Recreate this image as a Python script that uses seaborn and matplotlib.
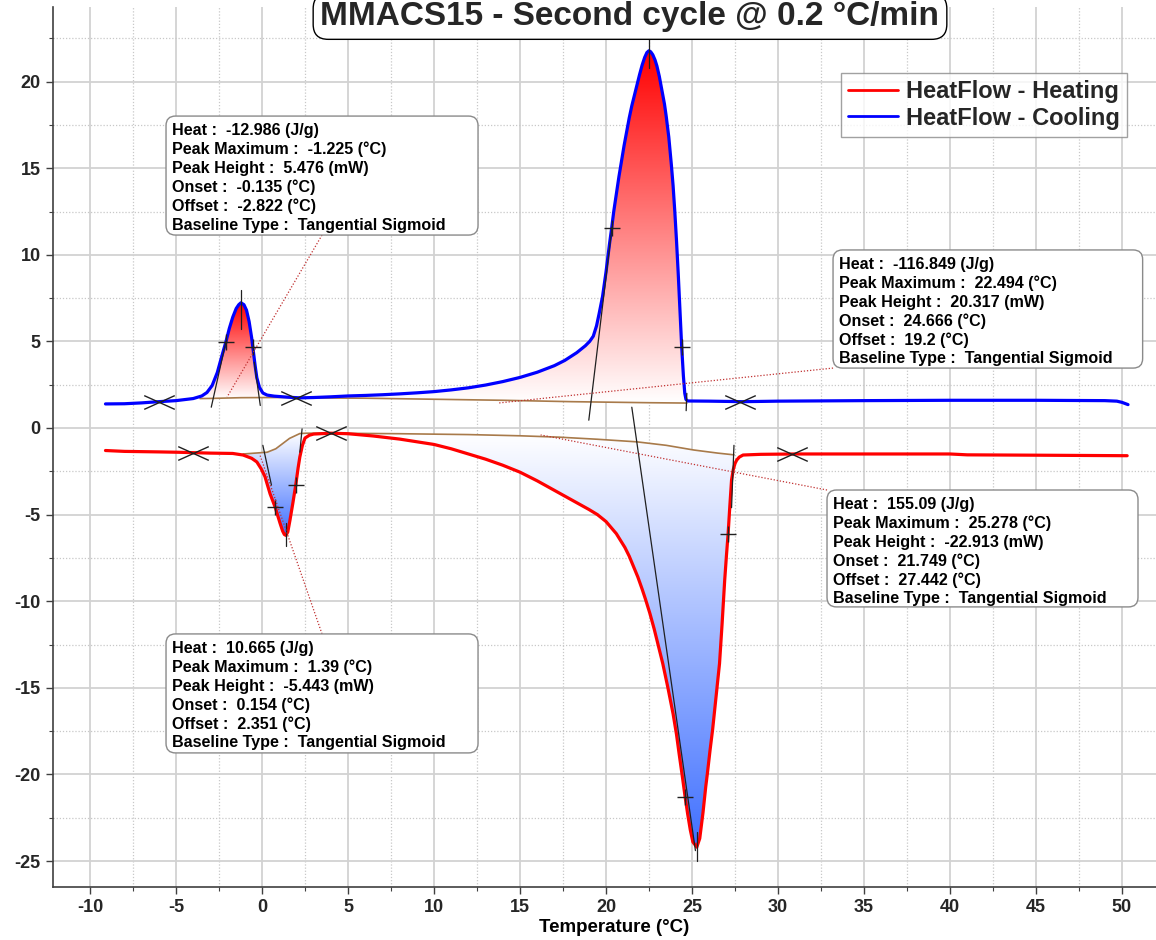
import numpy as np
import pandas as pd
import matplotlib
matplotlib.use("Agg")
import matplotlib.pyplot as plt
import seaborn as sns
from matplotlib.colors import LinearSegmentedColormap
from matplotlib.patches import FancyBboxPatch
from matplotlib.path import Path

# ---------------- heat-flow curves (temperature in °C, heat flow in mW) ----------------
cool_T = [-9.1, -8.0, -7.0, -6.0, -5.0, -4.0, -3.5, -3.2, -2.9, -2.6, -2.35, -2.1, -1.9,
          -1.7, -1.5, -1.35, -1.225, -1.05, -0.9, -0.75, -0.6, -0.5, -0.4, -0.3, -0.15,
          0.05, 0.3, 0.7, 1.5, 2.2, 3.0, 4.0, 5.0, 6.0, 7.0, 8.0, 9.0, 10.0, 11.0, 12.0,
          13.0, 14.0, 15.0, 16.0, 17.0, 17.6, 18.3, 18.8, 19.05, 19.26, 19.45, 19.6, 19.7,
          19.8, 19.9, 20.0, 20.1, 20.2, 20.33, 20.45, 20.6, 20.75, 20.9, 21.05, 21.2, 21.35,
          21.5, 21.65, 21.8, 21.95, 22.1, 22.25, 22.38, 22.494, 22.6, 22.72, 22.85, 22.96,
          23.1, 23.25, 23.4, 23.5, 23.65, 23.8, 23.9, 24.0, 24.1, 24.2, 24.3, 24.4, 24.5,
          24.58, 24.65, 24.75, 26.0, 28.0, 30.0, 35.0, 40.0, 45.0, 49.0, 49.7, 50.0, 50.35]
cool_HF = [1.39, 1.40, 1.45, 1.52, 1.58, 1.70, 1.85, 2.05, 2.45, 3.20, 4.10, 4.97, 5.75,
           6.40, 6.90, 7.12, 7.23, 7.12, 6.80, 6.15, 5.20, 4.40, 3.60, 2.90, 2.35,
           2.02, 1.90, 1.84, 1.78, 1.74, 1.76, 1.80, 1.85, 1.88, 1.92, 1.97, 2.03, 2.10, 2.20,
           2.32, 2.48, 2.68, 2.92, 3.22, 3.60, 3.90, 4.35, 4.75, 5.00, 5.30, 5.90, 6.60, 7.10,
           7.60, 8.30, 9.00, 9.80, 10.60, 11.55, 12.50, 13.50, 14.50, 15.40, 16.30, 17.10, 17.90,
           18.60, 19.20, 19.80, 20.40, 20.95, 21.40, 21.68, 21.78, 21.72, 21.55, 21.25, 20.90,
           20.30, 19.50, 18.70, 18.00, 16.80, 15.20, 14.00, 12.50, 10.80, 8.90, 6.80, 4.70, 3.00,
           2.00, 1.65, 1.56, 1.55, 1.52, 1.55, 1.58, 1.60, 1.60, 1.58, 1.55, 1.48, 1.35]

heat_T = [-9.1, -8.0, -6.0, -4.9, -3.0, -1.7, -1.1, -0.6, -0.3, -0.05, 0.17, 0.47, 0.76,
          1.05, 1.2, 1.3, 1.39, 1.5, 1.63, 1.8, 1.96, 2.1, 2.2, 2.35, 2.5, 2.75, 3.0, 4.0,
          5.0, 6.45, 8.0, 10.0, 11.0, 12.0, 13.0, 14.0, 15.0, 16.0, 17.0, 18.0, 19.0, 19.5,
          20.0, 20.6, 21.1, 21.35, 21.6, 21.85, 22.1, 22.3, 22.55, 22.8, 23.0, 23.15, 23.3,
          23.6, 23.9, 24.1, 24.25, 24.45, 24.6, 24.75, 24.9, 25.05, 25.278, 25.45, 25.64,
          25.8, 25.9, 26.05, 26.2, 26.4, 26.6, 26.75, 26.9, 27.0, 27.1, 27.2, 27.3, 27.4,
          27.5, 27.6, 27.75, 27.97, 29.0, 31.0, 35.0, 40.0, 41.0, 45.0, 50.3]
heat_HF = [-1.30, -1.35, -1.38, -1.40, -1.45, -1.47, -1.56, -1.75, -1.96, -2.35, -2.8, -3.8,
           -4.56, -5.5, -5.95, -6.15, -6.2, -6.0, -5.3, -4.3, -3.3, -2.3, -1.67, -1.0, -0.58,
           -0.42, -0.35, -0.30, -0.33, -0.46, -0.64, -0.95, -1.20, -1.50, -1.80, -2.15, -2.55,
           -3.05, -3.60, -4.15, -4.70, -5.00, -5.40, -6.10, -6.90, -7.40, -8.00, -8.60, -9.30,
           -9.90, -10.70, -11.60, -12.40, -13.00, -13.60, -15.00, -16.50, -17.70, -18.80,
           -20.20, -21.30, -22.30, -23.20, -23.90, -24.20, -23.70, -22.20, -20.70, -19.90,
           -18.60, -17.40, -15.50, -13.60, -11.30, -8.80, -7.40, -6.10, -4.50, -3.00, -2.40,
           -2.05, -1.85, -1.68, -1.56, -1.52, -1.50, -1.50, -1.50, -1.55, -1.57, -1.60]

# ---------------- integration baselines (tangential sigmoid) ----------------
cool_base1_T = [-3.6, -2.9, -1.225, 0.6, 2.0]
cool_base1_HF = [1.70, 1.71, 1.75, 1.76, 1.76]
cool_base2_T = [2.0, 6.0, 10.0, 14.0, 18.0, 22.494, 24.7]
cool_base2_HF = [1.74, 1.72, 1.66, 1.60, 1.52, 1.46, 1.44]
heat_base1_T = [-1.1, 0.3, 0.8, 1.2, 1.6, 2.2, 2.6, 4.0]
heat_base1_HF = [-1.50, -1.40, -1.20, -0.90, -0.60, -0.32, -0.30, -0.30]
heat_base2_T = [4.0, 8.0, 12.0, 15.0, 17.3, 19.5, 21.8, 23.5, 25.1, 26.5, 27.44]
heat_base2_HF = [-0.30, -0.33, -0.38, -0.45, -0.53, -0.65, -0.80, -1.00, -1.27, -1.45, -1.55]

# integration limits (×) and half-height points (+)
lim_T = [-6.0, 2.0, 27.8, -4.0, 4.0, 30.8]
lim_HF = [1.52, 1.75, 1.52, -1.42, -0.30, -1.50]
half_T = [-2.1, -0.54, 20.33, 24.4, 0.76, 1.96, 24.6, 27.1]
half_HF = [4.97, 4.7, 11.55, 4.7, -4.56, -3.3, -21.3, -6.1]

# tangent segments: (T start, HF start, T end, HF end)
tangent_segments = [
    (-2.95, 1.20, -2.10, 4.97),
    (-0.45, 3.80, -0.10, 1.30),
    (19.00, 0.45, 20.35, 11.60),
    (24.66, 1.00, 24.70, 2.00),
    (0.05, -1.00, 0.55, -3.30),
    (2.33, -0.05, 2.20, -1.40),
    (21.50, 1.20, 25.20, -24.40),
    (27.44, -1.00, 27.30, -4.60),
]

# ---------------- peak reports ----------------
ann_heat = [-12.986, -116.849, 155.09, 10.665]
ann_peak_max = [-1.225, 22.494, 25.278, 1.39]
ann_peak_height = [5.476, 20.317, -22.913, -5.443]
ann_onset = [-0.135, 24.666, 21.749, 0.154]
ann_offset = [-2.822, 19.2, 27.442, 2.351]
ann_baseline = ["Tangential Sigmoid"] * 4
ann_base_at_peak = [1.75, 1.46, -1.29, -0.76]
# report boxes (left, bottom, right, top) and leader lines
ann_boxes = [(-5.58, 11.14, 12.56, 18.01), (33.2, 3.46, 51.2, 10.28),
             (32.85, -10.33, 50.93, -3.58), (-5.58, -18.76, 12.56, -11.89)]
ann_leader_from = [(3.49, 11.14), (33.2, 3.46), (32.85, -3.58), (3.49, -11.89)]
ann_leader_to = [(-2.03, 1.79), (13.72, 1.44), (16.2, -0.40), (-0.12, -1.56)]

title = "MMACS15 - Second cycle @ 0.2 °C/min"
series_names = ["HeatFlow - Heating", "HeatFlow - Cooling"]
x_ticks = list(range(-10, 51, 5))
y_ticks = list(range(-25, 21, 5))

# ---------------- figure ----------------
sns.set_theme(style="white")
plt.rcParams['font.family'] = ['Liberation Sans', 'DejaVu Sans']
plt.rcParams['font.weight'] = 'bold'
plt.rcParams['axes.unicode_minus'] = False

W, H = 1156, 940
fig = plt.figure(figsize=(W / 100, H / 100), dpi=100)
ax = fig.add_axes([53 / W, 1 - 887 / H, (W - 53) / W, (887 - 7) / H])
ax.set_facecolor("white")

heat_df = pd.DataFrame({"T": heat_T, "HF": heat_HF, "run": series_names[0]})
cool_df = pd.DataFrame({"T": cool_T, "HF": cool_HF, "run": series_names[1]})


def gradient_fill(xs, upper, lower, top_color, bottom_color):
    xs = np.asarray(xs)
    poly = ax.fill_between(xs, lower, upper, facecolor="none", edgecolor="none")
    cmap = LinearSegmentedColormap.from_list("grad", [bottom_color, top_color])
    grad = np.linspace(0, 1, 256).reshape(-1, 1)
    im = ax.imshow(grad, cmap=cmap, origin="lower", aspect="auto", interpolation="bilinear",
                   extent=[xs.min(), xs.max(), np.min(lower), np.max(upper)], zorder=1.5)
    im.set_clip_path(poly.get_paths()[0], ax.transData)


def region(T, HF, bT, bHF):
    T = np.asarray(T)
    HF = np.asarray(HF)
    m = (T >= bT[0]) & (T <= bT[-1])
    xs = np.concatenate([[bT[0]], T[m], [bT[-1]]])
    curve = np.interp(xs, T, HF)
    base = np.interp(xs, bT, bHF)
    return xs, curve, base


# cooling exotherms: red towards the top
for bT, bHF in [(cool_base1_T, cool_base1_HF), (cool_base2_T, cool_base2_HF)]:
    xs, c, b = region(cool_T, cool_HF, bT, bHF)
    gradient_fill(xs, np.maximum(c, b), b, "#ff0000", "#ffffff")
# heating endotherms: blue towards the bottom
for bT, bHF in [(heat_base1_T, heat_base1_HF), (heat_base2_T, heat_base2_HF)]:
    xs, c, b = region(heat_T, heat_HF, bT, bHF)
    gradient_fill(xs, b, np.minimum(c, b), "#ffffff", "#4070ff")

brown = "#a87a4a"
for bT, bHF in [(cool_base1_T, cool_base1_HF), (cool_base2_T, cool_base2_HF),
                (heat_base1_T, heat_base1_HF), (heat_base2_T, heat_base2_HF)]:
    ax.plot(bT, bHF, color=brown, lw=1.2, zorder=2)

sns.lineplot(data=heat_df, x="T", y="HF", color="#ff0000", lw=2.3, ax=ax,
             estimator=None, sort=False, label=series_names[0], zorder=3)
sns.lineplot(data=cool_df, x="T", y="HF", color="#0000ff", lw=2.3, ax=ax,
             estimator=None, sort=False, label=series_names[1], zorder=3)

# tangents
for x0, y0, x1, y1 in tangent_segments:
    ax.plot([x0, x1], [y0, y1], color="#202020", lw=0.9, zorder=4)

# peak maximum ticks
peak_ext = [(-1.5, 0.75), (-1.0, 0.8), (0.9, -0.8), (0.7, -0.6)]
for px, base, hgt, (lo, hi) in zip(ann_peak_max, ann_base_at_peak, ann_peak_height, peak_ext):
    py = base + hgt
    ax.plot([px, px], [py + lo, py + hi], color="#202020", lw=0.9, zorder=4)

xmark = Path([(-1, -0.45), (1, 0.45), (-1, 0.45), (1, -0.45)],
             [Path.MOVETO, Path.LINETO, Path.MOVETO, Path.LINETO])
ax.plot(lim_T, lim_HF, ls="none", marker=xmark, ms=22, mec="#202020", mew=1.0, zorder=4)
ax.plot(half_T, half_HF, ls="none", marker="+", ms=11, mec="#202020", mew=1.0, zorder=4)

# peak report boxes
for i, (l, b, r, t) in enumerate(ann_boxes):
    fx, fy = ann_leader_from[i]
    tx, ty = ann_leader_to[i]
    ax.plot([fx, tx], [fy, ty], color="#c03030", lw=0.9, ls=(0, (1, 1.5)), zorder=5)
    box = FancyBboxPatch((l, b), r - l, t - b, boxstyle="round,pad=0,rounding_size=0.55",
                         transform=ax.transData, fc="white", ec="#8a8a8a", lw=1.0, zorder=6)
    ax.add_patch(box)
    lines = [f"Heat :  {ann_heat[i]} (J/g)",
             f"Peak Maximum :  {ann_peak_max[i]} (°C)",
             f"Peak Height :  {ann_peak_height[i]} (mW)",
             f"Onset :  {ann_onset[i]} (°C)",
             f"Offset :  {ann_offset[i]} (°C)",
             f"Baseline Type :  {ann_baseline[i]}"]
    for k, s in enumerate(lines):
        ax.text(l + 0.36, t - 1.097 - k * 1.091, s, fontsize=11.6, fontweight="bold",
                va="baseline", ha="left", color="black", zorder=7)

# axes and grid (ticks first, limits afterwards so the minor ticks do not widen the view)
ax.set_xticks(x_ticks)
ax.set_yticks(y_ticks)
ax.set_xticks(np.arange(-12.5, 52, 2.5), minor=True)
ax.set_yticks(np.arange(-25, 24, 2.5), minor=True)
ax.set_xlim((53 - 262) / 17.2, (W - 262) / 17.2)
ax.set_ylim((428 - 887) / 17.32, (428 - 7) / 17.32)
ax.grid(which="major", color="#d2d2d2", lw=1.3, zorder=0)
ax.grid(which="minor", color="#c8c8c8", lw=0.9, ls=(0, (1, 1.5)), zorder=0)
ax.set_axisbelow(True)
ax.tick_params(which="major", direction="out", length=5, width=1, color="#404040",
               labelsize=13, bottom=True, left=True, pad=4)
ax.tick_params(which="minor", direction="out", length=3, width=0.8, color="#404040",
               bottom=True, left=True)
for lab in ax.get_xticklabels() + ax.get_yticklabels():
    lab.set_fontweight("bold")
for side in ["top", "right"]:
    ax.spines[side].set_visible(False)
for side in ["left", "bottom"]:
    ax.spines[side].set_color("#404040")
    ax.spines[side].set_linewidth(1.2)

ax.set_xlabel("Temperature (°C)", fontsize=13.5, fontweight="bold", color="black")
ax.xaxis.set_label_coords((614 - 53) / (W - 53), -(919 - 887) / 880)
ax.set_ylabel("")

leg = ax.legend(loc="upper right", bbox_to_anchor=(1127 / W, 1 - 73 / H),
                bbox_transform=fig.transFigure, frameon=True, fancybox=False,
                edgecolor="#8a8a8a", prop={"weight": "bold", "size": 17},
                handlelength=2.1, handletextpad=0.35, borderpad=0.3, labelspacing=0.15,
                borderaxespad=0)
leg.get_frame().set_linewidth(1.0)
for ln in leg.get_lines():
    ln.set_linewidth(2.0)
leg.set_zorder(8)

fig.text(630 / W, 1 - 25 / H, title, ha="center", va="baseline", fontsize=24,
         fontweight="bold", zorder=10,
         bbox=dict(boxstyle="round,pad=0.22,rounding_size=0.45", fc="white", ec="black", lw=1.0))

fig.savefig("out.png", dpi=100)
